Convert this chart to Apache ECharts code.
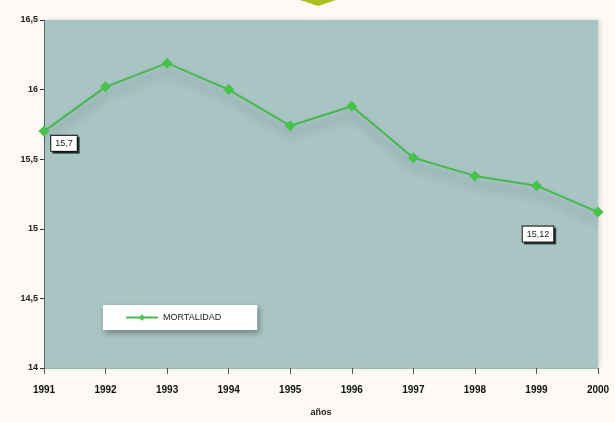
<!DOCTYPE html>
<html>
<head>
<meta charset="utf-8">
<script src="https://cdn.jsdelivr.net/npm/echarts@6/dist/echarts.min.js"></script>
<style>
html,body{margin:0;padding:0;background:#fdfaf5;}
#c{width:615px;height:422px;}
</style>
</head>
<body>
<div id="c"></div>
<script>
const years = ['1991','1992','1993','1994','1995','1996','1997','1998','1999','2000'];
const mortalidad = [15.7, 16.02, 16.19, 16.0, 15.74, 15.88, 15.51, 15.38, 15.31, 15.12];
const seriesName = 'MORTALIDAD';
const axisName = 'años';

const fmt = v => String(v).replace('.', ',');

const labelBox = {
  show: true,
  formatter: p => fmt(p.value),
  color: '#222',
  fontSize: 9,
  fontFamily: 'Liberation Sans',
  backgroundColor: '#ffffff',
  borderColor: '#111',
  borderWidth: 1,
  padding: [3, 4],
  shadowColor: 'rgba(0,0,0,0.6)',
  shadowOffsetX: 2,
  shadowOffsetY: 2,
  shadowBlur: 0,
  position: 'inside'
};

const data = mortalidad.map((v, i) => {
  if (i === 0) return { value: v, label: Object.assign({}, labelBox, { offset: [20, 12] }) };
  if (i === mortalidad.length - 1) return { value: v, label: Object.assign({}, labelBox, { offset: [-60, 22] }) };
  return v;
});

const chart = echarts.init(document.getElementById('c'));
chart.setOption({
  backgroundColor: '#fdfaf5',
  animation: false,
  graphic: [{
    type: 'polygon',
    shape: { points: [[300, 0], [336, 0], [318, 6]] },
    style: { fill: '#a9bf24' }
  }],
  grid: { left: 44, right: 17, top: 20, bottom: 50, show: true, backgroundColor: '#a8c4c3', borderWidth: 0,
          shadowColor: 'rgba(0,0,0,0.15)', shadowBlur: 4, shadowOffsetX: 2, shadowOffsetY: 0 },
  legend: {
    data: [seriesName],
    left: 103, top: 305,
    itemWidth: 32, itemHeight: 8,
    itemGap: 4,
    padding: [8, 36, 8, 22],
    backgroundColor: '#ffffff',
    shadowColor: 'rgba(0,0,0,0.35)', shadowBlur: 6, shadowOffsetX: 2, shadowOffsetY: 3,
    textStyle: { fontSize: 9, color: '#222', fontFamily: 'Liberation Sans' }
  },
  xAxis: {
    type: 'category',
    data: years,
    boundaryGap: false,
    name: axisName,
    nameLocation: 'middle',
    nameGap: 40,
    nameTextStyle: { fontSize: 9, fontWeight: 'bold', color: '#222', fontFamily: 'Liberation Sans' },
    axisLine: { show: true, lineStyle: { color: '#9fb6b5' } },
    axisTick: { show: true, alignWithLabel: true, length: 6, lineStyle: { color: '#555' } },
    axisLabel: { fontSize: 10, fontWeight: 'bold', color: '#111', margin: 17, fontFamily: 'Liberation Sans' },
    splitLine: { show: false }
  },
  yAxis: {
    type: 'value',
    min: 14, max: 16.5, interval: 0.5,
    axisLine: { show: true, lineStyle: { color: '#4f6a70', width: 1 } },
    axisTick: { show: true, length: 4, lineStyle: { color: '#333' } },
    axisLabel: { fontSize: 9, fontWeight: 'bold', color: '#222', margin: 6, fontFamily: 'Liberation Sans', formatter: v => fmt(v) },
    splitLine: { show: false }
  },
  series: [{
    name: seriesName,
    type: 'line',
    data: data,
    symbol: 'diamond',
    symbolSize: 11,
    itemStyle: { color: '#47c24a' },
    lineStyle: { color: '#47b84a', width: 2, shadowColor: 'rgba(60,70,90,0.45)', shadowBlur: 10, shadowOffsetY: 8 },
    label: { show: false },
    z: 3
  }]
});
</script>
</body>
</html>
